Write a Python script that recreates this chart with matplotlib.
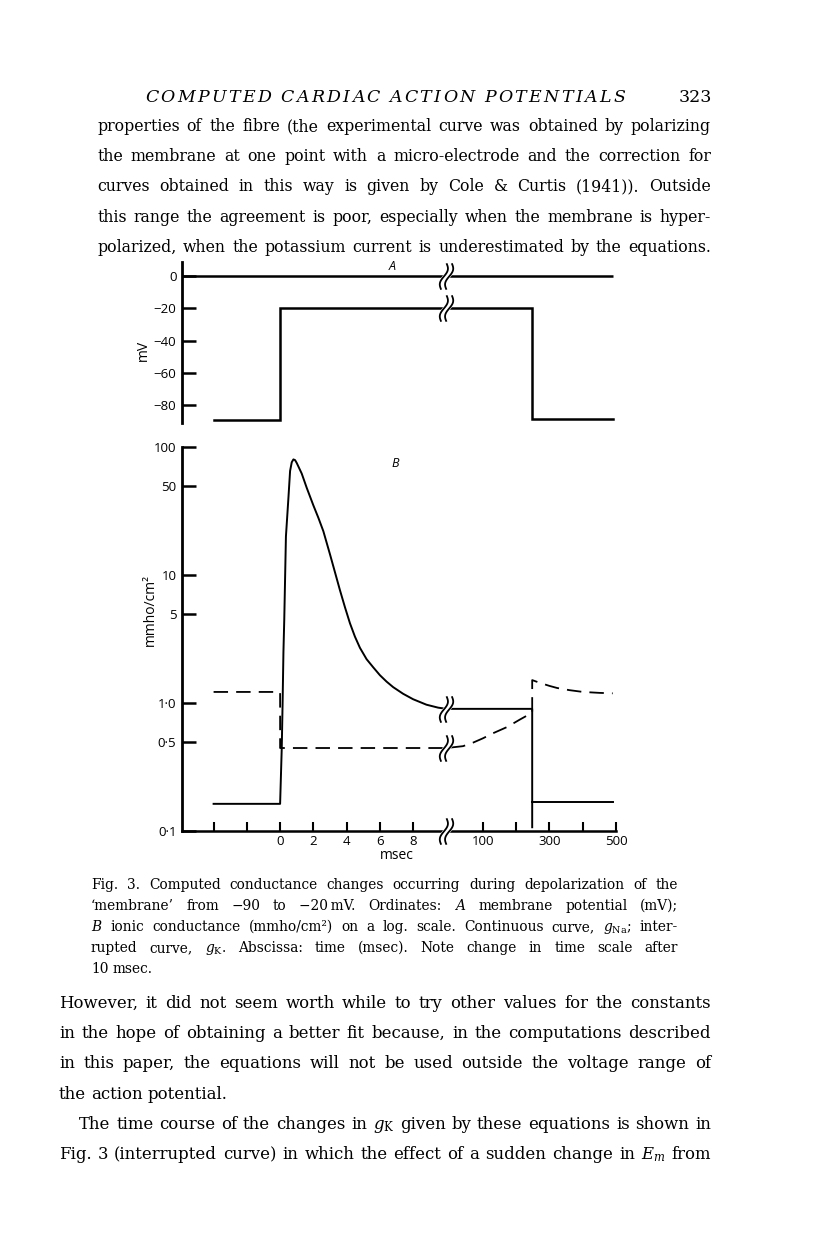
import numpy as np
import matplotlib.pyplot as plt
from matplotlib.path import Path
from matplotlib.ticker import NullLocator

plt.rcParams['mathtext.fontset'] = 'dejavuserif'

W, H = 816, 1239

# ---- values ----
# A: membrane potential (mV) against time (msec)
vm_t = [-4, 0, 0, 248, 248, 490]
vm_mv = [-89.3, -89.3, -20, -20, -88.3, -88.3]
zero_t = [-5.9, 490]

# B: g_Na (continuous curve), mmho/cm2
na_t = [-4, 0, 0.1, 0.15, 0.2, 0.25, 0.35, 0.5, 0.6, 0.7, 0.8, 0.9, 1.0, 1.3,
        1.6, 2.0, 2.3, 2.6, 3.0, 3.3, 3.6, 3.9, 4.2, 4.5, 4.8, 5.2, 5.6, 6.0,
        6.4, 6.8, 7.4, 8.0, 8.8, 9.5, 10, 248, 248]
na_g = [0.163, 0.163, 0.45, 1.0, 2.5, 4.5, 20, 40, 65, 76, 80, 79, 75, 62,
        48, 35, 28, 22, 14.5, 10.5, 7.6, 5.6, 4.2, 3.3, 2.7, 2.2, 1.9, 1.65,
        1.47, 1.33, 1.18, 1.07, 0.97, 0.92, 0.9, 0.9, 0.107]
na_rest_t = [248, 490]
na_rest_g = [0.168, 0.168]

# B: g_K (interrupted curve)
k_t = [-4, 0, 0, 10, 40, 70, 100, 130, 173, 210, 248, 248, 270, 300, 323,
       360, 401, 450, 490]
k_g = [1.22, 1.22, 0.445, 0.445, 0.46, 0.49, 0.53, 0.58, 0.65, 0.74, 0.84,
       1.51, 1.44, 1.36, 1.31, 1.26, 1.22, 1.2, 1.19]

t_break = 10
a_ticks = [0, -20, -40, -60, -80]
a_labels = ['0', '\u221220', '\u221240', '\u221260', '\u221280']
b_ticks = [100, 50, 10, 5, 1, 0.5, 0.1]
b_labels = ['100', '50', '10', '5', '1\u00b70', '0\u00b75', '0\u00b71']
x_ticks = [-4, -2, 0, 2, 4, 6, 8, 100, 200, 300, 400, 500]
x_labels = ['', '', '0', '2', '4', '6', '8', '100', '', '300', '', '500']

header = 'COMPUTED CARDIAC ACTION POTENTIALS'
page_no = '323'
top_lines = [
    'properties of the fibre (the experimental curve was obtained by polarizing',
    'the membrane at one point with a micro-electrode and the correction for',
    'curves obtained in this way is given by Cole & Curtis (1941)). Outside',
    'this range the agreement is poor, especially when the membrane is hyper-',
    'polarized, when the potassium current is underestimated by the equations.',
]
caption_lines = [
    'Fig. 3. Computed conductance changes occurring during depolarization of the',
    '\u2018membrane\u2019 from \u221290 to \u221220\u2009mV. Ordinates: $A$ membrane potential (mV);',
    '$B$ ionic conductance (mmho/cm\u00b2) on a log. scale. Continuous curve, $g_{\\mathrm{Na}}$; inter-',
    'rupted curve, $g_{\\mathrm{K}}$. Abscissa: time (msec). Note change in time scale after',
    '10 msec.',
]
bottom_lines = [
    'However, it did not seem worth while to try other values for the constants',
    'in the hope of obtaining a better fit because, in the computations described',
    'in this paper, the equations will not be used outside the voltage range of',
    'the action potential.',
    'The time course of the changes in $g_{\\mathrm{K}}$ given by these equations is shown in',
    'Fig. 3 (interrupted curve) in which the effect of a sudden change in $E_m$ from',
]


# time axis: 2 msec per division up to 10 msec, then 100 msec per division
def fwd(t):
    t = np.asarray(t, dtype=float)
    return np.where(t <= 10, t / 2, 5.1 + t / 100)


def inv(u):
    u = np.asarray(u, dtype=float)
    return np.where(u <= 5, 2 * u, np.where(u < 5.2, 10, (u - 5.1) * 100))


fig = plt.figure(figsize=(W / 100, H / 100), dpi=100)
renderer = fig.canvas.get_renderer()

# break marks: two wavy strokes, white between them
yy = np.linspace(-1, 1, 25)
def stroke(dx):
    return np.column_stack([dx + 0.2 * yy + 0.2 * np.sin(np.pi * yy), yy])
pair = np.vstack([stroke(-0.2), stroke(0.2)])
codes = ([Path.MOVETO] + [Path.LINETO] * (len(yy) - 1)) * 2
pair_path = Path(pair, codes)
mid_path = Path(stroke(0.0), [Path.MOVETO] + [Path.LINETO] * (len(yy) - 1))


def brk(ax, x, y):
    ax.plot([x], [y], marker=mid_path, ms=19, mec='white', mew=5,
            mfc='none', ls='none', zorder=5, clip_on=False)
    ax.plot([x], [y], marker=pair_path, ms=19, mec='black', mew=1.3,
            mfc='none', ls='none', zorder=6, clip_on=False)


sans = ['Open Sans', 'DejaVu Sans']
left, width = 182 / W, 434 / W
axA = fig.add_axes([left, 1 - 423 / H, width, 161 / H])
axB = fig.add_axes([left, 1 - 831 / H, width, 384 / H])

for ax in (axA, axB):
    ax.set_xscale('function', functions=(fwd, inv))
    ax.set_xlim(-5.9, 500)
    ax.xaxis.set_minor_locator(NullLocator())
    for s in ('top', 'right'):
        ax.spines[s].set_visible(False)
    ax.spines['left'].set_linewidth(2)
    ax.patch.set_visible(False)

# ---- panel A ----
axA.spines['bottom'].set_visible(False)
axA.xaxis.set_visible(False)
axA.hlines(0, zero_t[0], zero_t[1], color='black', lw=1.8)
axA.plot(vm_t, vm_mv, color='black', lw=1.8, solid_joinstyle='miter')
axA.set_ylim(-91, 8.6)
axA.set_yticks(a_ticks, a_labels, family=sans, fontsize=9.5)
axA.tick_params(axis='y', direction='in', length=10, width=1.8, pad=4)
axA.set_ylabel('mV', family=sans, fontsize=10)
axA.yaxis.set_label_coords(-0.072, 0.45)
axA.text(0.484, 0.969, 'A', transform=axA.transAxes, ha='center',
         va='center', family=sans, style='italic', fontsize=9)
brk(axA, t_break, 0)
brk(axA, t_break, -20)

# ---- panel B ----
axB.set_yscale('log')
axB.plot(na_t, na_g, color='black', lw=1.4)
axB.plot(na_rest_t, na_rest_g, color='black', lw=1.4)
axB.plot(k_t, k_g, color='black', lw=1.3, ls=(0, (8, 4.5)))
axB.set_ylim(0.1, 100)
axB.set_yticks(b_ticks, b_labels, family=sans, fontsize=9.5)
axB.yaxis.set_minor_locator(NullLocator())
axB.tick_params(axis='y', direction='in', length=10, width=1.8, pad=4)
axB.set_xticks(x_ticks, x_labels, family=sans, fontsize=9.5)
axB.tick_params(axis='x', direction='in', length=6.5, width=1.5, pad=3)
axB.spines['bottom'].set_linewidth(1.8)
axB.set_ylabel('mmho/cm\u00b2', family=sans, fontsize=10)
axB.yaxis.set_label_coords(-0.055, 0.576)
axB.set_xlabel('msec', family=sans, fontsize=10)
axB.xaxis.set_label_coords(0.495, -0.045)
axB.text(0.491, 0.958, 'B', transform=axB.transAxes, ha='center',
         va='center', family=sans, style='italic', fontsize=9)
brk(axB, t_break, 0.9)
brk(axB, t_break, 0.445)
brk(axB, t_break, 0.1)


# ---- page text ----
def fit_size(lines, span, frac, **kw):
    # font size at which the widest line takes frac of the measure
    t = fig.text(0, 0, '', fontsize=10, family='DejaVu Serif', **kw)
    widest = 0
    for line in lines:
        t.set_text(line)
        widest = max(widest, t.get_window_extent(renderer).width)
    t.remove()
    return 10 * frac * span / widest


def put_line(text, x0, x1, y, size, justify=True, **kw):
    words = text.split(' ')
    arts = [fig.text(0, 1 - y / H, w, fontsize=size, va='baseline',
                     family='DejaVu Serif', **kw) for w in words]
    ws = [a.get_window_extent(renderer).width for a in arts]
    if justify and len(words) > 1:
        gap = (x1 - x0 - sum(ws)) / (len(words) - 1)
    else:
        gap = 0.3 * size * 100 / 72
    x = x0
    for a, w in zip(arts, ws):
        a.set_x(x / W)
        x += w + gap


def put_tracked(text, x0, x1, y, size, **kw):
    arts = [fig.text(0, 1 - y / H, c, fontsize=size, va='baseline',
                     family='DejaVu Serif', **kw) for c in text]
    ws = [a.get_window_extent(renderer).width if c != ' ' else size * 0.35
          for a, c in zip(arts, text)]
    gap = (x1 - x0 - sum(ws)) / (len(text) - 1)
    x = x0
    for a, w in zip(arts, ws):
        a.set_x(x / W)
        x += w + gap


put_tracked(header, 145, 625, 102, 12.5, style='italic')
fig.text(712 / W, 1 - 102 / H, page_no, ha='right', va='baseline',
         fontsize=12.5, family='DejaVu Serif')

size_top = fit_size(top_lines, 614, 0.98)
for i, line in enumerate(top_lines):
    put_line(line, 97, 711, 131 + 30.2 * i, size_top)

size_cap = fit_size(caption_lines[:4], 587, 0.94)
for i, line in enumerate(caption_lines):
    put_line(line, 91, 678, 889 + 21 * i, size_cap,
             justify=i < len(caption_lines) - 1)

bottom_x0 = [59, 59, 59, 59, 79, 59]
bottom_just = [True, True, True, False, True, True]
size_bot = fit_size([bottom_lines[i] for i in (0, 1, 2, 5)], 652, 0.98)
for i, line in enumerate(bottom_lines):
    put_line(line, bottom_x0[i], 711, 1008 + 30.2 * i, size_bot,
             justify=bottom_just[i])

fig.savefig('out.png', dpi=100)
